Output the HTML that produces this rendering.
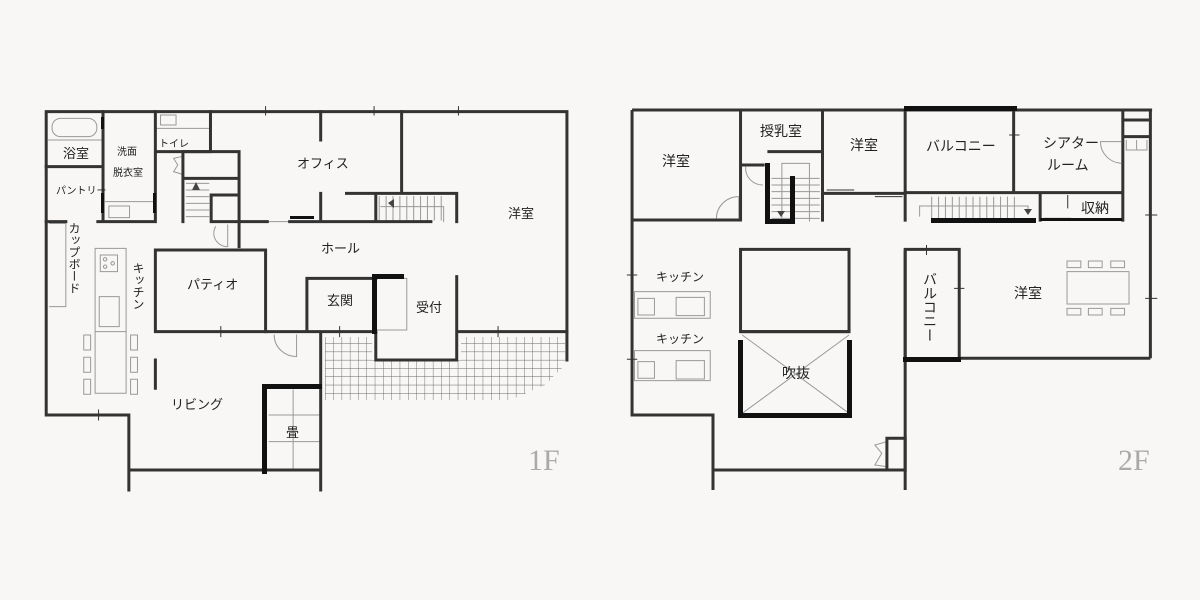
<!DOCTYPE html>
<html><head><meta charset="utf-8"><style>
html,body{margin:0;padding:0;background:#f8f7f5;}
svg{display:block}
text{font-family:"Liberation Sans","Noto Sans CJK JP",sans-serif;fill:#222;}
.v{writing-mode:vertical-rl;text-orientation:upright;}
</style></head><body>
<svg width="1200" height="600" viewBox="0 0 1200 600" xmlns="http://www.w3.org/2000/svg">
<defs>
<pattern id="grid" patternUnits="userSpaceOnUse" width="8.3" height="8.3" x="325" y="335">
<path d="M0,0H8.3M0,0V8.3" stroke="#666" stroke-width="0.9" fill="none"/>
</pattern>
</defs>
<rect width="1200" height="600" fill="#f8f7f5"/>
<polygon points="325,337 372,337 372,360 461,360 461,337 565,337 565,365 545,385 510,400 325,400" fill="url(#grid)"/>

<g transform="translate(40,100) scale(0.3444,0.3333)" fill="none" stroke-linecap="square">
<g stroke="#999" stroke-width="1" vector-effect="non-scaling-stroke">
<rect x="35" y="55" width="130" height="55" rx="25" vector-effect="non-scaling-stroke"/>
<path d="M25,120H178" vector-effect="non-scaling-stroke"/>
<path d="M28,370H75V620H28" vector-effect="non-scaling-stroke"/>
<rect x="350" y="45" width="45" height="30" vector-effect="non-scaling-stroke"/>
<path d="M340,85H490" vector-effect="non-scaling-stroke"/>
<rect x="200" y="318" width="60" height="35" vector-effect="non-scaling-stroke"/>
<path d="M190,305H330" vector-effect="non-scaling-stroke"/>
<rect x="160" y="445" width="90" height="435" vector-effect="non-scaling-stroke"/>
<rect x="175" y="465" width="50" height="50" vector-effect="non-scaling-stroke"/>
<ellipse cx="189" cy="478" rx="5" ry="5" vector-effect="non-scaling-stroke"/>
<ellipse cx="189" cy="500" rx="5" ry="5" vector-effect="non-scaling-stroke"/>
<ellipse cx="211" cy="490" rx="5" ry="5" vector-effect="non-scaling-stroke"/>
<rect x="172" y="590" width="58" height="90" vector-effect="non-scaling-stroke"/>
<path d="M160,695H250" vector-effect="non-scaling-stroke"/>
<rect x="127" y="705" width="20" height="45" vector-effect="non-scaling-stroke"/>
<rect x="127" y="772" width="20" height="45" vector-effect="non-scaling-stroke"/>
<rect x="127" y="838" width="20" height="45" vector-effect="non-scaling-stroke"/>
<rect x="263" y="705" width="20" height="45" vector-effect="non-scaling-stroke"/>
<rect x="263" y="772" width="20" height="45" vector-effect="non-scaling-stroke"/>
<rect x="263" y="838" width="20" height="45" vector-effect="non-scaling-stroke"/>
<path d="M425,250H490M425,270H490M425,290H490M425,310H490M425,330H490M425,350H490" vector-effect="non-scaling-stroke"/>
<path d="M985,290V360M1005,290V360M1025,290V360M1045,290V360M1065,290V360M1085,290V360M1105,290V360M1125,290V360M1145,290V360M1165,290V360" vector-effect="non-scaling-stroke"/>
<path d="M990,320H1172V365" vector-effect="non-scaling-stroke"/>
<path d="M975,535H1065V690H980" vector-effect="non-scaling-stroke"/>
<path d="M665,945H810M665,1025H810M735,870V1110" vector-effect="non-scaling-stroke"/>
<path d="M545,375V440A40,40 0 0,1 510,380" vector-effect="non-scaling-stroke"/>
<path d="M745,705V770A65,65 0 0,1 680,705" vector-effect="non-scaling-stroke"/>
<path d="M410,170L388,175L400,195L388,215L410,222" vector-effect="non-scaling-stroke"/>
<path d="M660,365H725" vector-effect="non-scaling-stroke"/>
</g>
<g stroke="#333" stroke-width="3" vector-effect="non-scaling-stroke">
<path d="M18,35H1530M18,35V945H258V1170M258,1110H815M815,700V1170M1530,35V780" vector-effect="non-scaling-stroke"/>
<path d="M18,200H180M183,35V365M18,365H75M168,365H335M335,35V365M335,155H495M495,35V155" vector-effect="non-scaling-stroke"/>
<path d="M415,155H578V440M415,155V365M415,235H578M497,285H578V365H497Z" vector-effect="non-scaling-stroke"/>
<path d="M815,35V120M815,280V365M578,365H660M725,365H975M1050,35V280M890,280H1210V365M975,280V365M975,365H1135" vector-effect="non-scaling-stroke"/>
<rect x="335" y="450" width="320" height="245" vector-effect="non-scaling-stroke"/>
<path d="M655,695H975M775,535H975M775,535V695" vector-effect="non-scaling-stroke"/>
<path d="M975,700V780H1210V530M1215,695H1530M335,780V865" vector-effect="non-scaling-stroke"/>
<path d="M170,930V960M258,1010V1040M525,680V710M870,680V710M1330,680V710M655,20V45M970,20V45M1215,20V45" stroke-width="1" vector-effect="non-scaling-stroke"/>
</g>
</g>
<g fill="#111">
<rect x="372" y="274" width="5" height="60"/><rect x="372" y="274" width="32" height="5"/>
<rect x="262" y="384" width="5" height="90"/><rect x="262" y="384" width="60" height="5"/>
<rect x="290" y="216" width="24" height="3"/>
<rect x="101" y="117" width="3" height="12"/><rect x="101" y="193" width="3" height="20"/>
<rect x="153" y="193" width="3" height="20"/>
</g>
<polygon points="196,182 200,190 192,190" fill="#444"/>
<polygon points="388,203 394,199 394,208" fill="#444"/>

<g transform="translate(620,100) scale(0.3444,0.3333)" fill="none">
<g stroke="#999" stroke-width="1" vector-effect="non-scaling-stroke">
<path d="M470,360V190H550V365M440,235H580M440,255H580M440,275H580M440,295H580M440,315H580M440,335H580M440,355H580" vector-effect="non-scaling-stroke"/>
<path d="M870,350V318H1185V335M905,290V360M925,290V360M945,290V360M965,290V360M985,290V360M1005,290V360M1025,290V360M1045,290V360M1065,290V360M1085,290V360M1105,290V360M1125,290V360M1145,290V360" vector-effect="non-scaling-stroke"/>
<path d="M355,705L665,940M665,705L355,940" vector-effect="non-scaling-stroke"/>
<rect x="42" y="575" width="220" height="80" vector-effect="non-scaling-stroke"/>
<rect x="52" y="595" width="48" height="50" vector-effect="non-scaling-stroke"/>
<rect x="163" y="592" width="82" height="55" vector-effect="non-scaling-stroke"/>
<rect x="42" y="752" width="220" height="90" vector-effect="non-scaling-stroke"/>
<rect x="52" y="785" width="48" height="50" vector-effect="non-scaling-stroke"/>
<rect x="163" y="782" width="82" height="55" vector-effect="non-scaling-stroke"/>
<rect x="1298" y="515" width="180" height="97" vector-effect="non-scaling-stroke"/>
<rect x="1298" y="483" width="40" height="20" vector-effect="non-scaling-stroke"/>
<rect x="1360" y="483" width="40" height="20" vector-effect="non-scaling-stroke"/>
<rect x="1425" y="483" width="40" height="20" vector-effect="non-scaling-stroke"/>
<rect x="1298" y="625" width="40" height="20" vector-effect="non-scaling-stroke"/>
<rect x="1360" y="625" width="40" height="20" vector-effect="non-scaling-stroke"/>
<rect x="1425" y="625" width="40" height="20" vector-effect="non-scaling-stroke"/>
<path d="M345,290V355M345,290A65,65 0 0,0 280,355" vector-effect="non-scaling-stroke"/>
<path d="M365,200A50,50 0 0,0 415,255" vector-effect="non-scaling-stroke"/>
<path d="M1455,125H1395A65,65 0 0,0 1455,190" vector-effect="non-scaling-stroke"/>
<path d="M1470,120V150H1530V120M1500,120V150" vector-effect="non-scaling-stroke"/>
<path d="M775,1025L740,1035L760,1060L740,1095L775,1100" vector-effect="non-scaling-stroke"/>
</g>
<g stroke="#333" stroke-width="3" vector-effect="non-scaling-stroke">
<path d="M35,30H1545M1540,30V775M35,30V945H270V1170M270,1110H830M828,450V1170M828,30V365" vector-effect="non-scaling-stroke"/>
<path d="M35,360H350V30M588,30V365M428,155H588M350,195H420M590,280H828" vector-effect="non-scaling-stroke"/>
<path d="M1143,30V275M828,278H1460M1460,30V365M1460,60H1540M1460,110H1540M1220,280V365" vector-effect="non-scaling-stroke"/>
<rect x="828" y="448" width="157" height="332" vector-effect="non-scaling-stroke"/>
<path d="M985,775H1540" vector-effect="non-scaling-stroke"/>
<rect x="350" y="448" width="315" height="247" vector-effect="non-scaling-stroke"/>
<path d="M350,695H668" vector-effect="non-scaling-stroke"/>
<rect x="775" y="1015" width="53" height="95" vector-effect="non-scaling-stroke"/>
<path d="M20,525H50M20,778H50M890,435V465M970,565H1000M1130,105H1160M1525,345H1560M1525,595H1560M740,290H820M600,270H680M1230,355H1310M1300,285V325" stroke-width="1" vector-effect="non-scaling-stroke"/>
</g>
</g>
<g fill="#111">
<rect x="904" y="106" width="113" height="5"/>
<rect x="765" y="163" width="5" height="61"/><rect x="765" y="219" width="29" height="5"/><rect x="790" y="176" width="5" height="48"/>
<rect x="931" y="218" width="105" height="5"/>
<rect x="1040" y="218" width="82" height="3"/>
<rect x="738" y="340" width="5" height="78"/><rect x="847" y="340" width="5" height="78"/><rect x="738" y="413" width="114" height="5"/>
<rect x="903" y="357" width="58" height="5"/>
</g>
<polygon points="777,211 785,211 781,217" fill="#444"/>
<polygon points="1024,209 1032,209 1028,215" fill="#444"/>

<g font-size="13">
<text x="63" y="158">浴室</text>
<text x="117" y="155" font-size="10">洗面</text>
<text x="113" y="176" font-size="10">脱衣室</text>
<text x="159" y="147" font-size="10">トイレ</text>
<text x="56" y="194" font-size="10">パントリー</text>
<text x="297" y="168">オフィス</text>
<text x="508" y="218">洋室</text>
<text x="321" y="253">ホール</text>
<text x="187" y="289">パティオ</text>
<text x="327" y="305">玄関</text>
<text x="416" y="312">受付</text>
<text x="171" y="409">リビング</text>
<text x="286" y="437">畳</text>
<text class="v" x="74" y="222" font-size="12">カップボード</text>
<text class="v" x="138" y="262" font-size="12">キッチン</text>
</g>
<text x="528" y="470" font-size="30" style="font-family:'Liberation Serif',serif;fill:#aaa">1F</text>
<g font-size="14">
<text x="662" y="166">洋室</text>
<text x="760" y="136">授乳室</text>
<text x="850" y="150">洋室</text>
<text x="926" y="151">バルコニー</text>
<text x="1043" y="148">シアター</text>
<text x="1047" y="170">ルーム</text>
<text x="1081" y="213">収納</text>
<text x="656" y="281" font-size="12">キッチン</text>
<text x="656" y="343" font-size="12">キッチン</text>
<text x="1014" y="298">洋室</text>
<text x="782" y="378">吹抜</text>
<text class="v" x="930" y="272">バルコニー</text>
</g>
<text x="1118" y="470" font-size="30" style="font-family:'Liberation Serif',serif;fill:#aaa">2F</text>
</svg>
</body></html>
